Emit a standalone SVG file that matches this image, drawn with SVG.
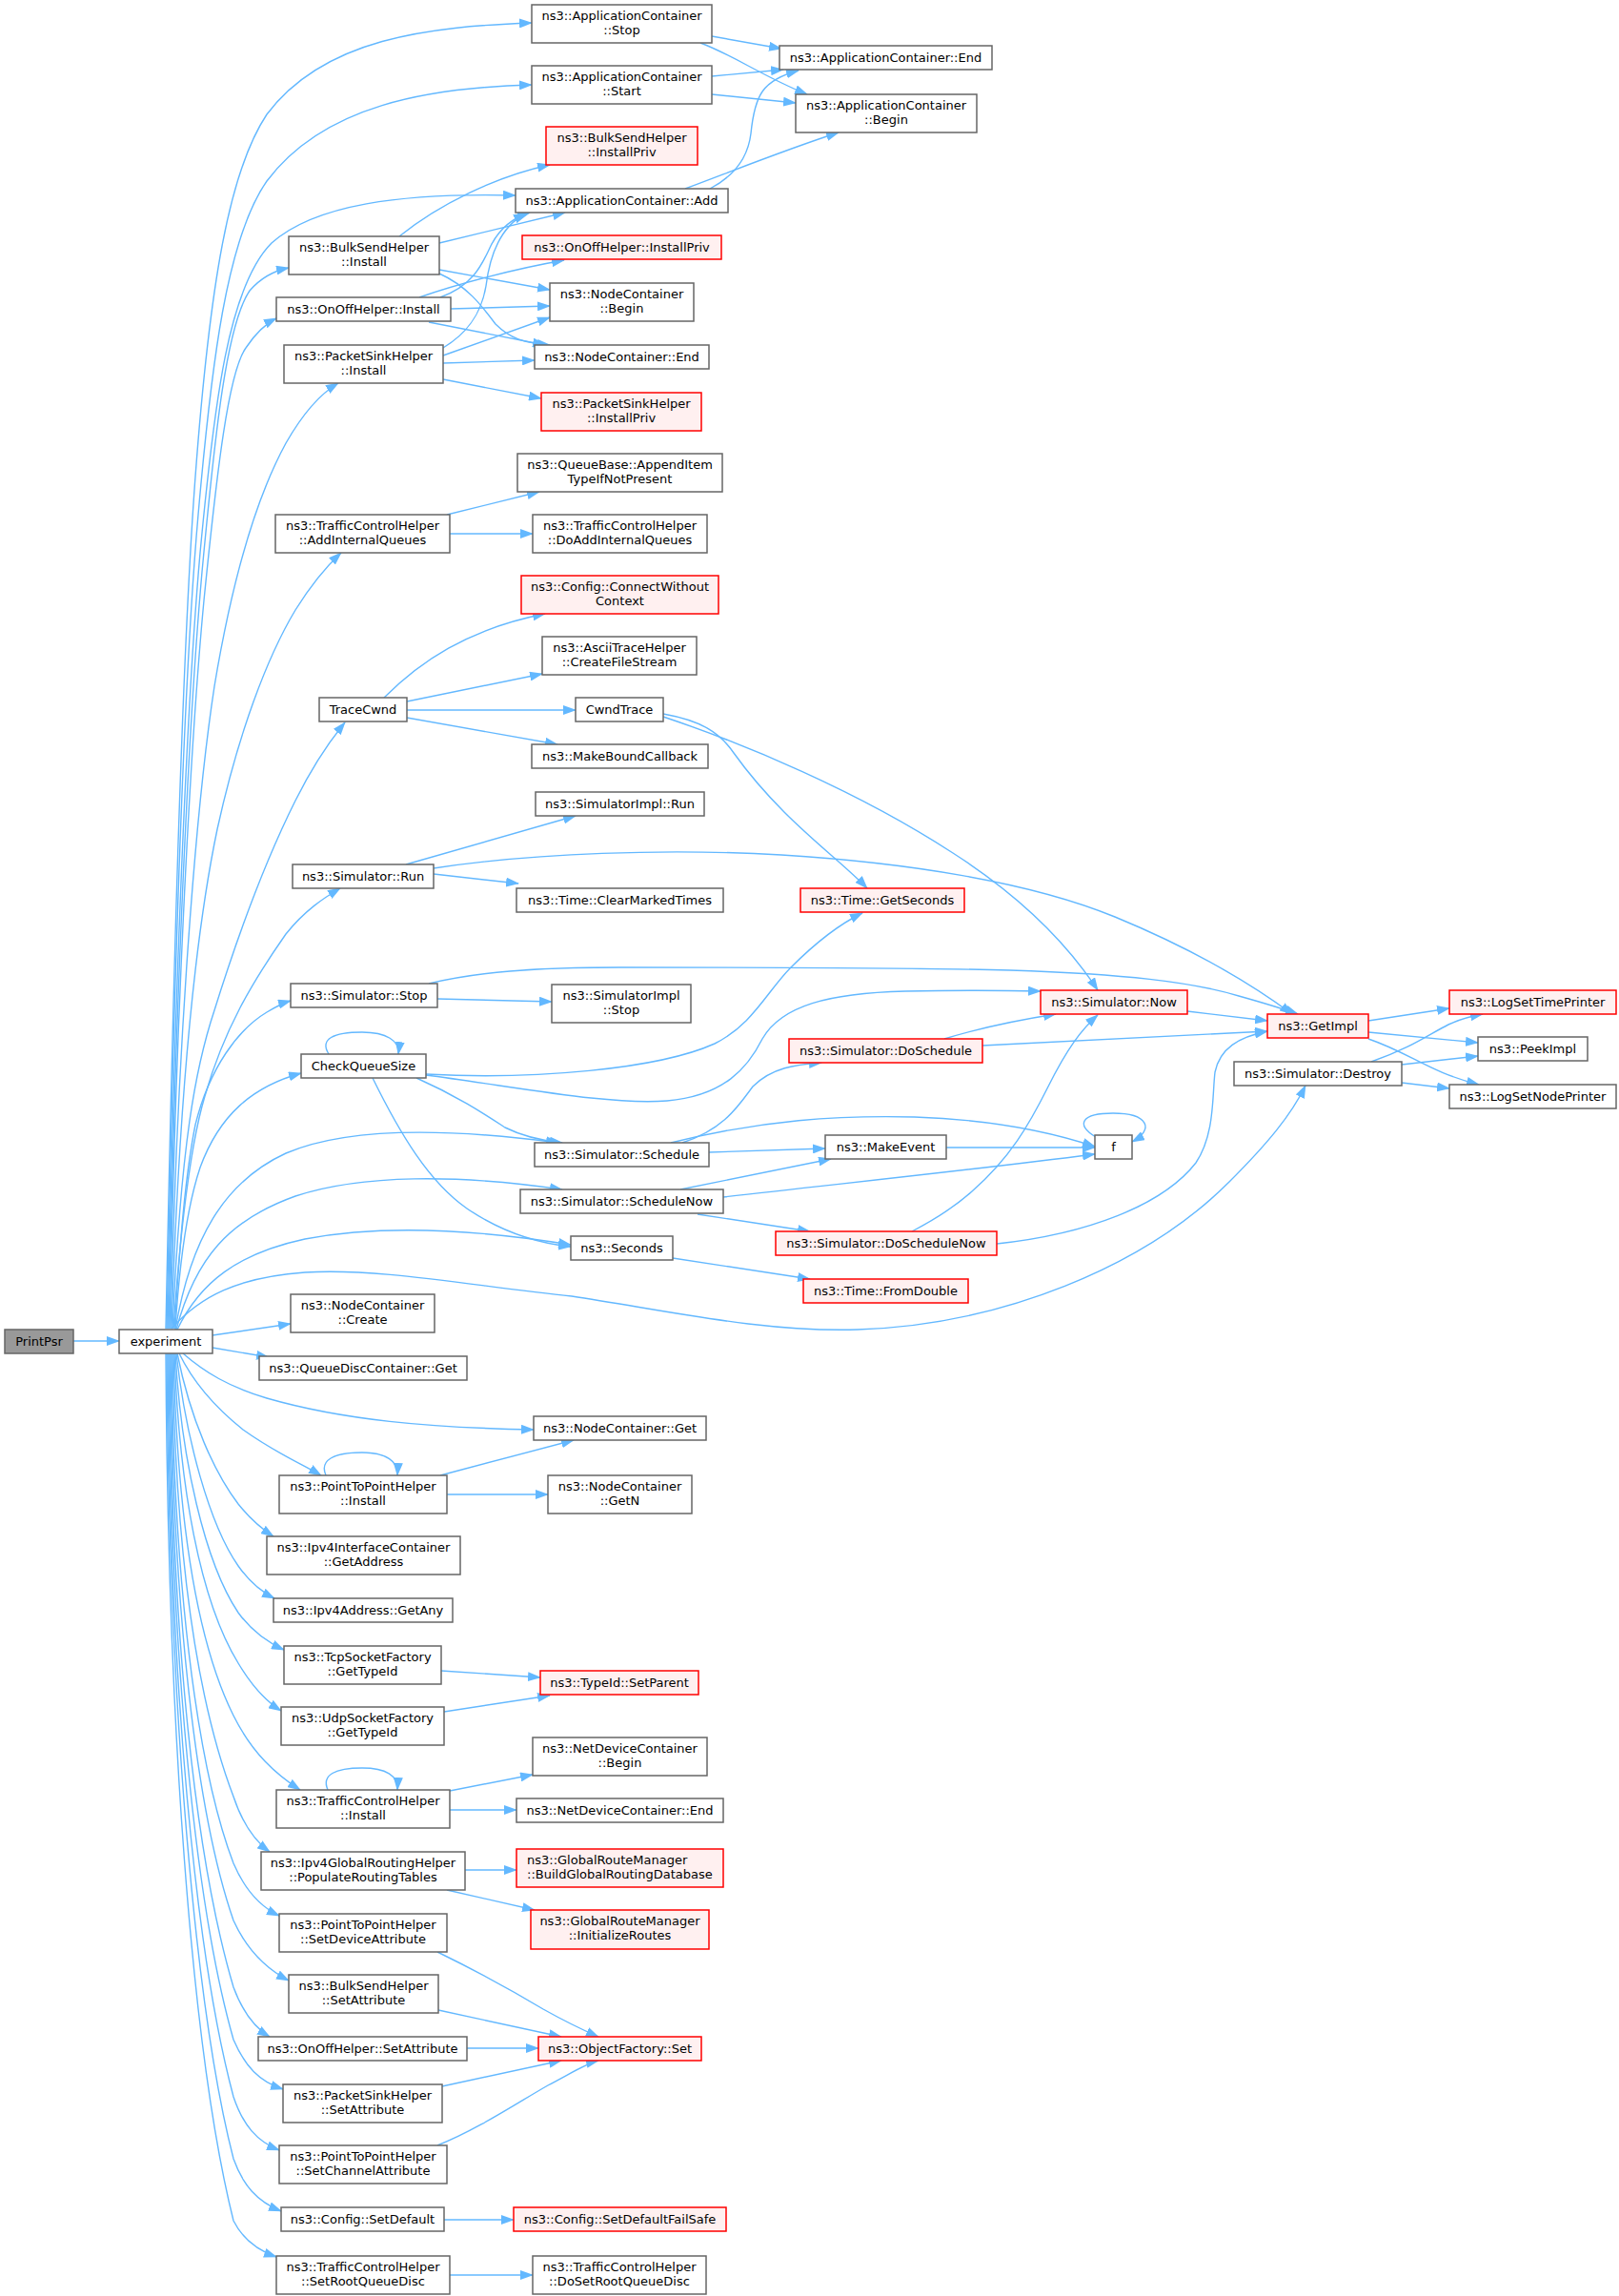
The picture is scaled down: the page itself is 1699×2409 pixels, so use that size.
<svg xmlns="http://www.w3.org/2000/svg" width="1699" height="2409" viewBox="0 0 1699 2409">
<defs>
<style>
text{font-family:"DejaVu Sans","Liberation Sans",sans-serif;font-size:13px;fill:#000;text-anchor:middle}
.n rect{fill:#fff;stroke:#666;stroke-width:1.5}
.r rect{fill:#fff0f0;stroke:#f00;stroke-width:1.5}
.g rect{fill:#999;stroke:#666;stroke-width:1.5}
#edges path{fill:none;stroke:#63b8ff;stroke-width:1.4;marker-end:url(#a)}
</style>
<marker id="a" markerUnits="userSpaceOnUse" markerWidth="14" markerHeight="10" refX="13" refY="5" orient="auto"><path d="M0,0 L14,5 L0,10 z" fill="#63b8ff"/></marker>
</defs>
<rect width="1699" height="2409" fill="#fff"/>
<g id="edges">
<path d="M77,1407 L125,1407"/>
<path d="M174,1394 C180,1100 190,700 205,500 C220,300 240,180 280,120 C340,40 450,28 558,24"/>
<path d="M175,1394 C181,1100 192,720 208,540 C222,380 238,250 280,190 C340,110 450,92 558,89"/>
<path d="M176,1394 C182,1100 194,760 210,580 C225,420 240,300 285,255 C330,215 420,202 541,205"/>
<path d="M177,1394 C183,1100 196,780 212,600 C226,450 238,340 262,305 C275,290 288,284 303,281"/>
<path d="M178,1394 C184,1100 198,800 214,630 C228,490 240,390 258,365 C268,350 278,340 290,334"/>
<path d="M179,1394 C186,1100 205,850 225,720 C245,600 270,520 300,465 C320,430 338,412 355,402"/>
<path d="M180,1394 C188,1150 205,980 228,870 C250,770 280,690 310,640 C330,608 345,592 358,580"/>
<path d="M181,1394 C190,1200 205,1120 225,1060 C250,980 280,900 310,840 C330,800 348,775 362,758"/>
<path d="M182,1394 C190,1280 200,1200 215,1150 C235,1080 265,1030 300,980 C320,955 340,942 357,932"/>
<path d="M183,1394 C188,1320 193,1240 205,1180 C220,1120 250,1080 280,1062 C290,1056 298,1052 305,1050"/>
<path d="M184,1394 C188,1330 195,1270 210,1225 C230,1170 265,1140 316,1126"/>
<path d="M184,1395 C200,1300 235,1240 300,1210 C370,1180 480,1185 586,1199"/>
<path d="M185,1395 C205,1320 240,1280 310,1255 C380,1232 480,1232 590,1248"/>
<path d="M186,1395 C210,1345 250,1315 320,1300 C400,1285 500,1290 599,1306"/>
<path d="M180,1394 C210,1360 250,1340 320,1335 C400,1330 500,1350 600,1360 C700,1375 800,1398 900,1395 C1050,1390 1200,1330 1290,1240 C1330,1200 1355,1170 1370,1139"/>
<path d="M223,1401 L305,1389"/>
<path d="M223,1414 L282,1424"/>
<path d="M192,1420 C215,1440 240,1455 280,1467 C360,1490 450,1498 560,1500"/>
<path d="M188,1420 C205,1455 230,1480 255,1500 C290,1525 315,1535 337,1548"/>
<path d="M186,1420 C200,1490 225,1545 250,1578 C262,1593 273,1603 287,1612"/>
<path d="M185,1420 C195,1510 220,1600 250,1643 C262,1660 274,1670 288,1677"/>
<path d="M184,1420 C190,1530 215,1640 250,1692 C263,1710 278,1722 298,1731"/>
<path d="M183,1420 C188,1560 210,1680 250,1745 C262,1765 276,1783 295,1795"/>
<path d="M182,1420 C186,1590 205,1720 245,1800 C265,1840 290,1862 315,1878"/>
<path d="M181,1420 C184,1620 205,1780 245,1885 C255,1915 268,1932 283,1943"/>
<path d="M180,1420 C182,1650 205,1850 245,1955 C257,1983 272,2000 293,2010"/>
<path d="M179,1420 C181,1680 205,1900 245,2015 C260,2048 280,2066 303,2078"/>
<path d="M178,1420 C180,1720 205,1950 245,2085 C255,2112 268,2128 283,2137"/>
<path d="M177,1420 C179,1740 205,2000 245,2140 C257,2168 272,2184 297,2192"/>
<path d="M176,1420 C178,1770 205,2050 245,2200 C255,2230 270,2247 293,2256"/>
<path d="M175,1420 C177,1790 205,2110 245,2265 C255,2293 270,2310 295,2320"/>
<path d="M174,1420 C176,1800 200,2150 245,2330 C255,2350 270,2361 290,2368"/>
<path d="M747,38 L820,51"/>
<path d="M735,45 C770,58 800,80 847,99"/>
<path d="M747,80 L822,73"/>
<path d="M747,99 L835,108"/>
<path d="M745,198 C770,185 785,165 788,140 C792,100 800,84 838,74"/>
<path d="M719,198 C780,175 830,155 880,139"/>
<path d="M419,248 C460,215 520,185 577,173"/>
<path d="M461,255 L593,223"/>
<path d="M461,283 L577,304"/>
<path d="M461,287 C490,300 505,320 520,340 C535,355 550,360 577,362"/>
<path d="M462,312 C495,300 505,280 515,258 C525,238 540,228 556,223"/>
<path d="M465,365 C490,350 505,330 510,300 C515,260 530,235 552,224"/>
<path d="M440,312 C480,298 540,282 592,273"/>
<path d="M473,324 L577,321"/>
<path d="M450,338 L572,362"/>
<path d="M465,373 L577,333"/>
<path d="M465,381 L561,378"/>
<path d="M465,398 L568,418"/>
<path d="M469,540 L566,516"/>
<path d="M472,560 L559,560"/>
<path d="M403,732 C440,695 490,660 572,644"/>
<path d="M427,736 L569,707"/>
<path d="M427,745 L604,745"/>
<path d="M427,753 L585,781"/>
<path d="M696,749 C735,756 755,768 770,790 C820,860 880,900 910,932"/>
<path d="M696,752 C780,780 900,830 1000,895 C1070,940 1120,990 1152,1039"/>
<path d="M426,907 L604,856"/>
<path d="M455,911 C560,895 700,890 820,897 C950,905 1080,925 1170,962 C1250,995 1310,1030 1356,1064"/>
<path d="M455,917 L544,927"/>
<path d="M450,1032 C500,1020 560,1015 650,1015 C800,1015 950,1015 1060,1018 C1180,1022 1250,1030 1300,1045 C1325,1052 1345,1058 1362,1064"/>
<path d="M459,1048 L579,1051"/>
<path d="M345,1106 C335,1090 350,1083 380,1083 C405,1083 420,1092 418,1106"/>
<path d="M447,1127 C560,1133 690,1122 750,1095 C790,1075 805,1040 830,1015 C855,990 880,970 905,958"/>
<path d="M447,1128 C540,1140 640,1160 700,1155 C760,1150 785,1120 800,1090 C820,1055 870,1042 950,1040 C1000,1039 1050,1039 1092,1040"/>
<path d="M437,1131 C480,1150 510,1170 530,1183 C550,1193 570,1197 590,1199"/>
<path d="M391,1131 C420,1190 450,1240 490,1268 C530,1295 570,1305 599,1308"/>
<path d="M716,1199 C760,1185 775,1160 790,1140 C810,1120 835,1117 862,1115"/>
<path d="M704,1199 C800,1175 880,1170 960,1172 C1050,1175 1110,1190 1149,1203"/>
<path d="M744,1209 L866,1205"/>
<path d="M714,1248 L872,1216"/>
<path d="M759,1256 C880,1242 1000,1230 1149,1211"/>
<path d="M732,1274 L850,1292"/>
<path d="M706,1320 L850,1342"/>
<path d="M991,1090 C1030,1078 1070,1070 1108,1064"/>
<path d="M1031,1097 L1330,1082"/>
<path d="M957,1292 C980,1280 1000,1268 1020,1250 C1060,1215 1080,1180 1100,1140 C1120,1100 1135,1080 1152,1065"/>
<path d="M1046,1305 C1140,1295 1220,1265 1255,1220 C1275,1190 1272,1150 1275,1125 C1280,1100 1300,1088 1330,1082"/>
<path d="M993,1204 L1149,1204"/>
<path d="M1150,1193 C1128,1180 1135,1168 1168,1168 C1205,1168 1212,1185 1188,1198"/>
<path d="M1246,1061 L1330,1071"/>
<path d="M1436,1071 L1521,1058"/>
<path d="M1436,1083 L1551,1094"/>
<path d="M1436,1090 C1480,1105 1500,1125 1552,1138"/>
<path d="M1439,1114 C1480,1100 1500,1085 1520,1075 C1535,1068 1545,1066 1556,1064"/>
<path d="M1471,1117 L1551,1108"/>
<path d="M1471,1136 L1521,1142"/>
<path d="M342,1548 C335,1532 350,1524 380,1524 C405,1524 418,1533 417,1548"/>
<path d="M462,1548 L602,1511"/>
<path d="M469,1568 L575,1568"/>
<path d="M463,1753 L567,1760"/>
<path d="M466,1796 L577,1779"/>
<path d="M344,1878 C337,1862 352,1855 380,1855 C405,1855 418,1863 417,1878"/>
<path d="M472,1879 L559,1862"/>
<path d="M472,1899 L542,1899"/>
<path d="M488,1962 L542,1962"/>
<path d="M469,1983 L561,2004"/>
<path d="M459,2048 C500,2068 540,2090 570,2108 C595,2122 612,2130 628,2137"/>
<path d="M460,2109 L589,2137"/>
<path d="M490,2149 L565,2149"/>
<path d="M464,2189 L589,2162"/>
<path d="M459,2251 C500,2235 545,2205 575,2188 C600,2175 615,2165 628,2162"/>
<path d="M466,2329 L539,2329"/>
<path d="M472,2387 L559,2387"/>
</g>
<g id="PrintPsr" class="g"><rect x="5" y="1395" width="72" height="25"/><text x="41" y="1412">PrintPsr</text></g>
<g id="experiment" class="n"><rect x="125" y="1395" width="98" height="25"/><text x="174" y="1412">experiment</text></g>
<g id="AppStop" class="n"><rect x="558" y="5" width="189" height="40"/><text x="652.5" y="21">ns3::ApplicationContainer</text><text x="652.5" y="36">::Stop</text></g>
<g id="AppEnd" class="n"><rect x="818" y="48" width="223" height="25"/><text x="929.5" y="65">ns3::ApplicationContainer::End</text></g>
<g id="AppStart" class="n"><rect x="558" y="69" width="189" height="40"/><text x="652.5" y="85">ns3::ApplicationContainer</text><text x="652.5" y="100">::Start</text></g>
<g id="AppBegin" class="n"><rect x="835" y="99" width="190" height="40"/><text x="930" y="115">ns3::ApplicationContainer</text><text x="930" y="130">::Begin</text></g>
<g id="BulkInstallPriv" class="r"><rect x="573" y="133" width="159" height="40"/><text x="652.5" y="149">ns3::BulkSendHelper</text><text x="652.5" y="164">::InstallPriv</text></g>
<g id="AppAdd" class="n"><rect x="541" y="198" width="223" height="25"/><text x="652.5" y="215">ns3::ApplicationContainer::Add</text></g>
<g id="OnOffInstallPriv" class="r"><rect x="548" y="247" width="209" height="25"/><text x="652.5" y="264">ns3::OnOffHelper::InstallPriv</text></g>
<g id="BulkInstall" class="n"><rect x="303" y="248" width="158" height="40"/><text x="382" y="264">ns3::BulkSendHelper</text><text x="382" y="279">::Install</text></g>
<g id="OnOffInstall" class="n"><rect x="290" y="312" width="183" height="25"/><text x="381.5" y="329">ns3::OnOffHelper::Install</text></g>
<g id="NCBegin" class="n"><rect x="577" y="297" width="151" height="40"/><text x="652.5" y="313">ns3::NodeContainer</text><text x="652.5" y="328">::Begin</text></g>
<g id="NCEnd" class="n"><rect x="561" y="362" width="183" height="25"/><text x="652.5" y="379">ns3::NodeContainer::End</text></g>
<g id="PSInstall" class="n"><rect x="298" y="362" width="167" height="40"/><text x="381.5" y="378">ns3::PacketSinkHelper</text><text x="381.5" y="393">::Install</text></g>
<g id="PSInstallPriv" class="r"><rect x="568" y="412" width="168" height="40"/><text x="652" y="428">ns3::PacketSinkHelper</text><text x="652" y="443">::InstallPriv</text></g>
<g id="AppendItem" class="n"><rect x="543" y="476" width="215" height="40"/><text x="650.5" y="492">ns3::QueueBase::AppendItem</text><text x="650.5" y="507">TypeIfNotPresent</text></g>
<g id="AddInternalQueues" class="n"><rect x="289" y="540" width="183" height="40"/><text x="380.5" y="556">ns3::TrafficControlHelper</text><text x="380.5" y="571">::AddInternalQueues</text></g>
<g id="DoAddInternalQueues" class="n"><rect x="559" y="540" width="183" height="40"/><text x="650.5" y="556">ns3::TrafficControlHelper</text><text x="650.5" y="571">::DoAddInternalQueues</text></g>
<g id="ConnectWithoutContext" class="r"><rect x="547" y="604" width="207" height="40"/><text x="650.5" y="620">ns3::Config::ConnectWithout</text><text x="650.5" y="635">Context</text></g>
<g id="CreateFileStream" class="n"><rect x="569" y="668" width="162" height="40"/><text x="650" y="684">ns3::AsciiTraceHelper</text><text x="650" y="699">::CreateFileStream</text></g>
<g id="TraceCwnd" class="n"><rect x="335" y="732" width="92" height="25"/><text x="381" y="749">TraceCwnd</text></g>
<g id="CwndTrace" class="n"><rect x="604" y="732" width="92" height="25"/><text x="650" y="749">CwndTrace</text></g>
<g id="MakeBoundCallback" class="n"><rect x="558" y="781" width="185" height="25"/><text x="650.5" y="798">ns3::MakeBoundCallback</text></g>
<g id="SimImplRun" class="n"><rect x="562" y="831" width="177" height="25"/><text x="650.5" y="848">ns3::SimulatorImpl::Run</text></g>
<g id="SimRun" class="n"><rect x="307" y="907" width="148" height="25"/><text x="381" y="924">ns3::Simulator::Run</text></g>
<g id="ClearMarkedTimes" class="n"><rect x="542" y="932" width="217" height="25"/><text x="650.5" y="949">ns3::Time::ClearMarkedTimes</text></g>
<g id="GetSeconds" class="r"><rect x="840" y="932" width="172" height="25"/><text x="926" y="949">ns3::Time::GetSeconds</text></g>
<g id="SimStop" class="n"><rect x="305" y="1032" width="154" height="25"/><text x="382" y="1049">ns3::Simulator::Stop</text></g>
<g id="SimImplStop" class="n"><rect x="579" y="1033" width="146" height="40"/><text x="652" y="1049">ns3::SimulatorImpl</text><text x="652" y="1064">::Stop</text></g>
<g id="SimNow" class="r"><rect x="1092" y="1039" width="154" height="25"/><text x="1169" y="1056">ns3::Simulator::Now</text></g>
<g id="GetImpl" class="r"><rect x="1330" y="1064" width="106" height="25"/><text x="1383" y="1081">ns3::GetImpl</text></g>
<g id="LogSetTimePrinter" class="r"><rect x="1521" y="1039" width="175" height="25"/><text x="1608.5" y="1056">ns3::LogSetTimePrinter</text></g>
<g id="PeekImpl" class="n"><rect x="1551" y="1088" width="115" height="25"/><text x="1608.5" y="1105">ns3::PeekImpl</text></g>
<g id="LogSetNodePrinter" class="n"><rect x="1521" y="1138" width="175" height="25"/><text x="1608.5" y="1155">ns3::LogSetNodePrinter</text></g>
<g id="SimDestroy" class="n"><rect x="1295" y="1114" width="176" height="25"/><text x="1383" y="1131">ns3::Simulator::Destroy</text></g>
<g id="DoSchedule" class="r"><rect x="828" y="1090" width="203" height="25"/><text x="929.5" y="1107">ns3::Simulator::DoSchedule</text></g>
<g id="CheckQueueSize" class="n"><rect x="316" y="1106" width="131" height="25"/><text x="381.5" y="1123">CheckQueueSize</text></g>
<g id="Schedule" class="n"><rect x="561" y="1199" width="183" height="25"/><text x="652.5" y="1216">ns3::Simulator::Schedule</text></g>
<g id="MakeEvent" class="n"><rect x="866" y="1191" width="127" height="25"/><text x="929.5" y="1208">ns3::MakeEvent</text></g>
<g id="f" class="n"><rect x="1149" y="1191" width="39" height="25"/><text x="1168.5" y="1208">f</text></g>
<g id="ScheduleNow" class="n"><rect x="546" y="1248" width="213" height="25"/><text x="652.5" y="1265">ns3::Simulator::ScheduleNow</text></g>
<g id="Seconds" class="n"><rect x="599" y="1297" width="107" height="25"/><text x="652.5" y="1314">ns3::Seconds</text></g>
<g id="DoScheduleNow" class="r"><rect x="814" y="1292" width="232" height="25"/><text x="930" y="1309">ns3::Simulator::DoScheduleNow</text></g>
<g id="FromDouble" class="r"><rect x="843" y="1342" width="173" height="25"/><text x="929.5" y="1359">ns3::Time::FromDouble</text></g>
<g id="NCCreate" class="n"><rect x="305" y="1358" width="151" height="40"/><text x="380.5" y="1374">ns3::NodeContainer</text><text x="380.5" y="1389">::Create</text></g>
<g id="QDCGet" class="n"><rect x="272" y="1423" width="218" height="25"/><text x="381" y="1440">ns3::QueueDiscContainer::Get</text></g>
<g id="NCGet" class="n"><rect x="560" y="1486" width="181" height="25"/><text x="650.5" y="1503">ns3::NodeContainer::Get</text></g>
<g id="P2PInstall" class="n"><rect x="293" y="1548" width="176" height="40"/><text x="381" y="1564">ns3::PointToPointHelper</text><text x="381" y="1579">::Install</text></g>
<g id="NCGetN" class="n"><rect x="575" y="1548" width="151" height="40"/><text x="650.5" y="1564">ns3::NodeContainer</text><text x="650.5" y="1579">::GetN</text></g>
<g id="GetAddress" class="n"><rect x="280" y="1612" width="203" height="40"/><text x="381.5" y="1628">ns3::Ipv4InterfaceContainer</text><text x="381.5" y="1643">::GetAddress</text></g>
<g id="GetAny" class="n"><rect x="287" y="1677" width="188" height="25"/><text x="381" y="1694">ns3::Ipv4Address::GetAny</text></g>
<g id="TcpGetTypeId" class="n"><rect x="298" y="1727" width="165" height="40"/><text x="380.5" y="1743">ns3::TcpSocketFactory</text><text x="380.5" y="1758">::GetTypeId</text></g>
<g id="SetParent" class="r"><rect x="567" y="1753" width="166" height="25"/><text x="650" y="1770">ns3::TypeId::SetParent</text></g>
<g id="UdpGetTypeId" class="n"><rect x="295" y="1791" width="171" height="40"/><text x="380.5" y="1807">ns3::UdpSocketFactory</text><text x="380.5" y="1822">::GetTypeId</text></g>
<g id="NDCBegin" class="n"><rect x="559" y="1823" width="183" height="40"/><text x="650.5" y="1839">ns3::NetDeviceContainer</text><text x="650.5" y="1854">::Begin</text></g>
<g id="TCHInstall" class="n"><rect x="290" y="1878" width="182" height="40"/><text x="381" y="1894">ns3::TrafficControlHelper</text><text x="381" y="1909">::Install</text></g>
<g id="NDCEnd" class="n"><rect x="542" y="1887" width="217" height="25"/><text x="650.5" y="1904">ns3::NetDeviceContainer::End</text></g>
<g id="PopulateRoutingTables" class="n"><rect x="274" y="1943" width="214" height="40"/><text x="381" y="1959">ns3::Ipv4GlobalRoutingHelper</text><text x="381" y="1974">::PopulateRoutingTables</text></g>
<g id="BuildGlobalRoutingDatabase" class="r"><rect x="542" y="1940" width="217" height="40"/><text x="553" y="1956" style="text-anchor:start">ns3::GlobalRouteManager</text><text x="553" y="1971" style="text-anchor:start">::BuildGlobalRoutingDatabase</text></g>
<g id="InitializeRoutes" class="r"><rect x="557" y="2004" width="187" height="41"/><text x="650.5" y="2020">ns3::GlobalRouteManager</text><text x="650.5" y="2035">::InitializeRoutes</text></g>
<g id="SetDeviceAttribute" class="n"><rect x="293" y="2008" width="176" height="40"/><text x="381" y="2024">ns3::PointToPointHelper</text><text x="381" y="2039">::SetDeviceAttribute</text></g>
<g id="BulkSetAttribute" class="n"><rect x="303" y="2072" width="157" height="40"/><text x="381.5" y="2088">ns3::BulkSendHelper</text><text x="381.5" y="2103">::SetAttribute</text></g>
<g id="OnOffSetAttribute" class="n"><rect x="271" y="2137" width="219" height="25"/><text x="380.5" y="2154">ns3::OnOffHelper::SetAttribute</text></g>
<g id="ObjectFactorySet" class="r"><rect x="565" y="2137" width="171" height="25"/><text x="650.5" y="2154">ns3::ObjectFactory::Set</text></g>
<g id="PSSetAttribute" class="n"><rect x="297" y="2187" width="167" height="40"/><text x="380.5" y="2203">ns3::PacketSinkHelper</text><text x="380.5" y="2218">::SetAttribute</text></g>
<g id="SetChannelAttribute" class="n"><rect x="293" y="2251" width="176" height="40"/><text x="381" y="2267">ns3::PointToPointHelper</text><text x="381" y="2282">::SetChannelAttribute</text></g>
<g id="ConfigSetDefault" class="n"><rect x="295" y="2316" width="171" height="25"/><text x="380.5" y="2333">ns3::Config::SetDefault</text></g>
<g id="SetDefaultFailSafe" class="r"><rect x="539" y="2316" width="223" height="25"/><text x="650.5" y="2333">ns3::Config::SetDefaultFailSafe</text></g>
<g id="SetRootQueueDisc" class="n"><rect x="290" y="2367" width="182" height="40"/><text x="381" y="2383">ns3::TrafficControlHelper</text><text x="381" y="2398">::SetRootQueueDisc</text></g>
<g id="DoSetRootQueueDisc" class="n"><rect x="559" y="2367" width="182" height="40"/><text x="650" y="2383">ns3::TrafficControlHelper</text><text x="650" y="2398">::DoSetRootQueueDisc</text></g>
</svg>
